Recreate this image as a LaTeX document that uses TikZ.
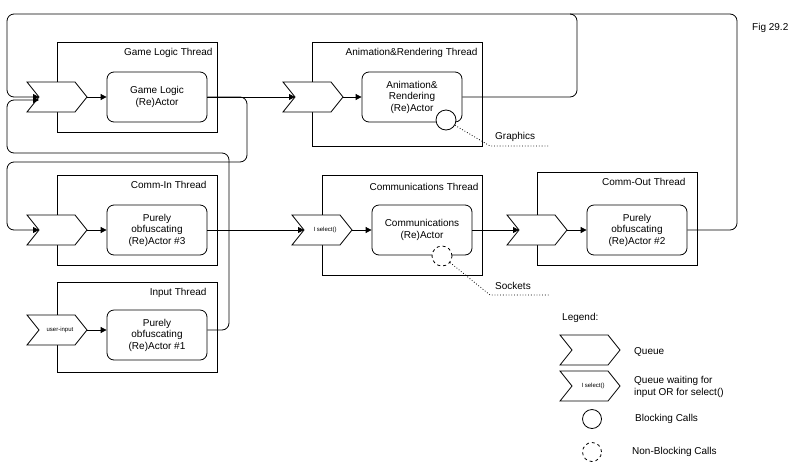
\documentclass[tikz,border=0pt]{standalone}
\usepackage{fontspec}
\setmainfont{Liberation Sans}
\usetikzlibrary{arrows.meta}
\begin{document}
\begin{tikzpicture}[x=1pt,y=-1pt,font=\fontsize{10}{11.5}\selectfont,
  actor/.style={draw,thick,rounded corners=7pt,fill=white,align=center},
  flow/.style={thick,-{Triangle[length=6pt,width=6pt]},rounded corners=7pt},
  line/.style={thick,rounded corners=7pt},
  dotl/.style={thick,dotted},
  lbl/.style={anchor=west,inner sep=0pt}]
\useasboundingbox (0,0) rectangle (802,461);
\newcommand\queue[4]{% x y name text
  \draw[thick,fill=white] (#1,#2-15) -- ++(48,0) -- ++(12,15) -- ++(-12,15) -- ++(-48,0) -- ++(12,-15) -- cycle;
  \coordinate (#3) at (#1+12,#2);
  \coordinate (#3t) at (#1+60,#2);
  \node[font=\fontsize{6}{7}\selectfont] (#3l) at (#1+33,#2) {#4};}
% thread boxes
\draw[thick] (57,42) rectangle (217,132);
\node[anchor=north east] (tgl) at (216,45) {Game Logic Thread};
\draw[thick] (312,42) rectangle (482,146);
\node[anchor=north east] (tar) at (481,45) {Animation\&Rendering Thread};
\draw[thick] (57,175) rectangle (217,265);
\node[anchor=north east] (tci) at (210,178) {Comm-In Thread};
\draw[thick] (57,282) rectangle (217,372);
\node[anchor=north east] (tin) at (210,285) {Input Thread};
\draw[thick] (322,175) rectangle (482,275);
\node[anchor=north east] (tcm) at (482,180) {Communications Thread};
\draw[thick] (537,172) rectangle (697,265);
\node[anchor=north east] (tco) at (689,175) {Comm-Out Thread};
% queues
\queue{27}{97}{qg}{}
\queue{283}{97}{qa}{}
\queue{27}{230}{qc}{}
\queue{27}{330}{qi}{user-input}
\queue{292}{230}{qm}{I select()}
\queue{507}{230}{qo}{}
% actors
\node[actor,minimum width=100pt,minimum height=50pt] (ag) at (157,97) {Game Logic\\(Re)Actor};
\node[actor,minimum width=100pt,minimum height=50pt] (aa) at (412,97) {Animation\&\\Rendering\\(Re)Actor};
\node[actor,minimum width=100pt,minimum height=50pt] (ac) at (157,230) {Purely\\obfuscating\\(Re)Actor \#3};
\node[actor,minimum width=100pt,minimum height=50pt] (ai) at (157,335) {Purely\\obfuscating\\(Re)Actor \#1};
\node[actor,minimum width=100pt,minimum height=50pt] (am) at (422,230) {Communications\\(Re)Actor};
\node[actor,minimum width=100pt,minimum height=50pt] (ao) at (637,230) {Purely\\obfuscating\\(Re)Actor \#2};
% blocking circles
\node[draw,thick,fill=white,circle,minimum size=20pt,inner sep=0pt] (cg) at (446,120) {};
\node[draw,thick,dashed,fill=white,circle,minimum size=20pt,inner sep=0pt] (cs) at (442,256) {};
\node[lbl] (gr) at (495,137) {Graphics};
\node[lbl] (so) at (495,286) {Sockets};
\coordinate (g1) at (490,146); \coordinate (g2) at (550,146);
\coordinate (s1) at (490,295); \coordinate (s2) at (550,295);
\draw[dotl] (cg) -- (g1) -- (g2);
\draw[dotl] (cs) -- (s1) -- (s2);
% queue -> actor
\draw[flow] (qgt) -- (ag);
\draw[flow] (qat) -- (aa.west|-qat);
\draw[flow] (qct) -- (ac);
\draw[flow] (qit) -- (ai.west|-qit);
\draw[flow] (qmt) -- (am);
\draw[flow] (qot) -- (ao);
% connections
\draw[flow] (ag.east) -- (qa);
\draw[flow] (ag.east) -| (247,162) -| (7,230) -- (qc);
\draw[flow] (ai.east|-qi) -| (229,153) -| (7,100) -- (qg|-0,100);
\draw[flow] (aa.east) -| (577,14) -| (7,97) -- (qg);
\draw[line] (ao.east) -| (737,14) -- (570,14);
\draw[flow] (ac.east) -- (qm);
\draw[flow] (am.east) -- (qo);
\node[lbl] (fig) at (752,28) {Fig 29.2};
% legend
\node[lbl] (leg) at (562,318) {Legend:};
\queue{560}{350}{lq}{}
\queue{560}{386}{lw}{I select()}
\node[lbl] (lt1) at (634,352) {Queue};
\node[lbl,align=left] (lt2) at (634,387) {Queue waiting for\\input OR for select()};
\node[draw,thick,circle,minimum size=19pt,inner sep=0pt] (lc1) at (592,419) {};
\node[draw,thick,dashed,circle,minimum size=19pt,inner sep=0pt] (lc2) at (592,452) {};
\node[lbl] (lt3) at (635,419) {Blocking Calls};
\node[lbl] (lt4) at (632,452) {Non-Blocking Calls};
\end{tikzpicture}
\end{document}
